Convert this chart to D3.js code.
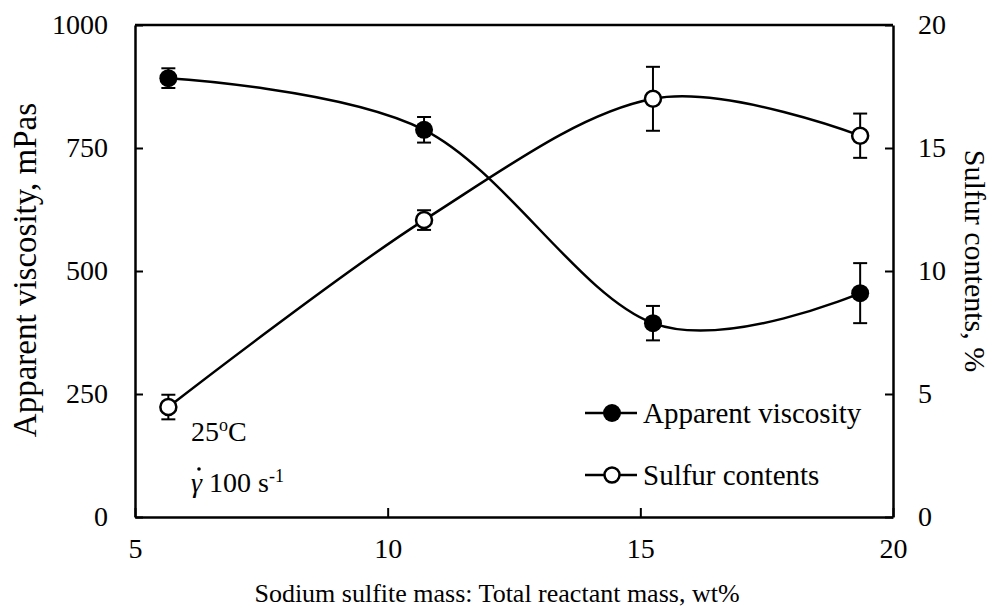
<!DOCTYPE html>
<html>
<head>
<meta charset="utf-8">
<script src="https://cdn.jsdelivr.net/npm/d3@7"></script>
<style>
  body { margin: 0; background: #fff; }
</style>
</head>
<body>
<div id="chart"></div>
<script>
// data
var massRatio = [5.66, 10.72, 15.25, 19.35];
var viscosity = [892, 787, 394, 455];
var viscosityErr = [20, 26, 35, 61];
var sulfur = [4.47, 12.07, 17.0, 15.5];
var sulfurErr = [0.5, 0.4, 1.3, 0.9];
var xTicks = [5, 10, 15, 20];
var yTicks = [0, 250, 500, 750, 1000];
var y2Ticks = [0, 5, 10, 15, 20];

var width = 995, height = 611;
var margin = {left: 135, right: 102, top: 25, bottom: 94};
var serif = "'Liberation Serif', Tinos, 'Times New Roman', 'DejaVu Serif', 'Noto Serif', serif";
var fontSize = 28;

var svg = d3.select("#chart").append("svg")
    .attr("width", width)
    .attr("height", height)
    .style("font-family", serif);

var x = d3.scaleLinear().domain([5, 20]).range([margin.left, width - margin.right]);
var y = d3.scaleLinear().domain([0, 1000]).range([height - margin.bottom, margin.top]);
var y2 = d3.scaleLinear().domain([0, 20]).range([height - margin.bottom, margin.top]);

// axes, ticks pointing inwards
var xAxis = svg.append("g")
    .attr("transform", "translate(0," + y(0) + ")")
    .call(d3.axisBottom(x).tickValues(xTicks).tickFormat(d3.format("d"))
        .tickSizeInner(-9).tickSizeOuter(0).tickPadding(21));
var yAxis = svg.append("g")
    .attr("transform", "translate(" + x(5) + ",0)")
    .call(d3.axisLeft(y).tickValues(yTicks).tickFormat(d3.format("d"))
        .tickSizeInner(-8).tickSizeOuter(0).tickPadding(27));
var y2Axis = svg.append("g")
    .attr("transform", "translate(" + x(20) + ",0)")
    .call(d3.axisRight(y2).tickValues(y2Ticks).tickFormat(d3.format("d"))
        .tickSizeInner(-8).tickSizeOuter(0).tickPadding(25));

[xAxis, yAxis, y2Axis].forEach(function (g) {
    g.attr("font-family", null).attr("font-size", null);
    g.selectAll("text").style("font-family", serif).style("font-size", fontSize + "px").attr("fill", "#000");
    g.selectAll("line").attr("stroke", "#000").attr("stroke-width", 2);
    g.select(".domain").attr("stroke", "#000").attr("stroke-width", 2.5);
});

// top edge of the frame
svg.append("line")
    .attr("x1", x(5)).attr("x2", x(20))
    .attr("y1", y(1000)).attr("y2", y(1000))
    .attr("stroke", "#000").attr("stroke-width", 2.5);

function label(sel, size) {
    return sel.style("font-family", serif).style("font-size", (size || fontSize) + "px").attr("fill", "#000");
}

// axis titles
label(svg.append("text"), 26)
    .attr("x", 497).attr("y", 602)
    .attr("text-anchor", "middle")
    .text("Sodium sulfite mass: Total reactant mass, wt%");

label(svg.append("text"), 33)
    .attr("transform", "translate(36,270) rotate(-90)")
    .attr("text-anchor", "middle")
    .text("Apparent viscosity, mPas");

label(svg.append("text"), 30)
    .attr("transform", "translate(965,261) rotate(90)")
    .attr("text-anchor", "middle")
    .text("Sulfur contents, %");

// smoothed lines
var viscData = massRatio.map(function (d, i) { return {x: d, v: viscosity[i], e: viscosityErr[i]}; });
var sulfData = massRatio.map(function (d, i) { return {x: d, v: sulfur[i], e: sulfurErr[i]}; });

var viscLine = d3.line().x(function (d) { return x(d.x); }).y(function (d) { return y(d.v); })
    .curve(d3.curveCardinal.tension(0));
var sulfLine = d3.line().x(function (d) { return x(d.x); }).y(function (d) { return y2(d.v); })
    .curve(d3.curveCardinal.tension(0));

svg.append("path").datum(viscData)
    .attr("d", viscLine)
    .attr("fill", "none").attr("stroke", "#000").attr("stroke-width", 2.5);
svg.append("path").datum(sulfData)
    .attr("d", sulfLine)
    .attr("fill", "none").attr("stroke", "#000").attr("stroke-width", 2.5);

// error bars
function errorBars(data, scale) {
    var g = svg.append("g").attr("stroke", "#000").attr("stroke-width", 2);
    var cap = 7;
    data.forEach(function (d) {
        var cx = x(d.x), top = scale(d.v + d.e), bot = scale(d.v - d.e);
        g.append("line").attr("x1", cx).attr("x2", cx).attr("y1", top).attr("y2", bot);
        g.append("line").attr("x1", cx - cap).attr("x2", cx + cap).attr("y1", top).attr("y2", top);
        g.append("line").attr("x1", cx - cap).attr("x2", cx + cap).attr("y1", bot).attr("y2", bot);
    });
}
errorBars(viscData, y);
errorBars(sulfData, y2);

// markers
svg.selectAll(".visc").data(viscData).enter().append("circle")
    .attr("class", "visc")
    .attr("cx", function (d) { return x(d.x); })
    .attr("cy", function (d) { return y(d.v); })
    .attr("r", 9)
    .attr("fill", "#000");
svg.selectAll(".sulf").data(sulfData).enter().append("circle")
    .attr("class", "sulf")
    .attr("cx", function (d) { return x(d.x); })
    .attr("cy", function (d) { return y2(d.v); })
    .attr("r", 8)
    .attr("fill", "#fff").attr("stroke", "#000").attr("stroke-width", 2.5);

// legend
var legend = [
    {label: "Apparent viscosity", fill: "#000", r: 9, sw: 0},
    {label: "Sulfur contents", fill: "#fff", r: 7.5, sw: 2.5}
];
var lg = svg.selectAll(".legend").data(legend).enter().append("g")
    .attr("class", "legend")
    .attr("transform", function (d, i) { return "translate(585," + (413 + i * 62) + ")"; });
lg.append("line").attr("x1", 0).attr("x2", 52).attr("y1", 0).attr("y2", 0)
    .attr("stroke", "#000").attr("stroke-width", 2.5);
lg.append("circle").attr("cx", 27).attr("cy", 0)
    .attr("r", function (d) { return d.r; })
    .attr("fill", function (d) { return d.fill; })
    .attr("stroke", "#000")
    .attr("stroke-width", function (d) { return d.sw; });
label(lg.append("text"), 29).attr("x", 58).attr("y", 10)
    .text(function (d) { return d.label; });

// conditions note
var note1 = label(svg.append("text")).attr("x", 191).attr("y", 441);
note1.append("tspan").text("25");
note1.append("tspan").attr("dy", -10).style("font-size", "18px").text("o");
note1.append("tspan").attr("dy", 10).text("C");

var note2 = label(svg.append("text")).attr("x", 191).attr("y", 492);
note2.append("tspan").attr("font-style", "italic").text("\u03B3");
note2.append("tspan").text(" 100 s");
note2.append("tspan").attr("dy", -10).style("font-size", "18px").text("-1");
// dot above gamma (shear rate)
svg.append("circle").attr("cx", 199).attr("cy", 469).attr("r", 1.8).attr("fill", "#000");
</script>
</body>
</html>
